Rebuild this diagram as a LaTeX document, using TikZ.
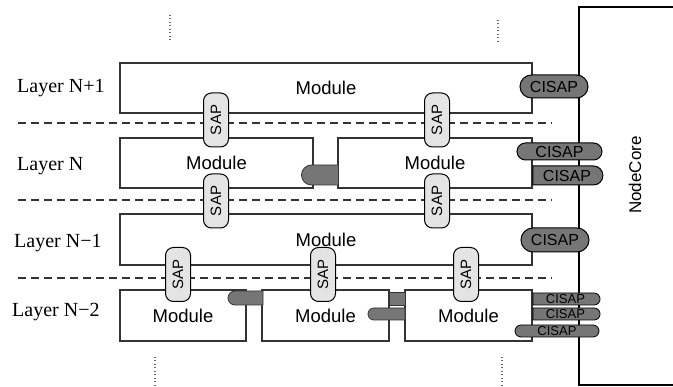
\documentclass[tikz,border=0pt]{standalone}
\usepackage{fontspec}
\setmainfont{Liberation Serif}
\setsansfont{Liberation Sans}
\usetikzlibrary{shapes.misc, positioning}
\definecolor{trazo}{HTML}{333333}
\definecolor{grisosc}{HTML}{767676}
\definecolor{grissap}{HTML}{E4E4E4}
\tikzset{
  modulo/.style={rectangle, draw=trazo, line width=1.3pt, fill=white, inner sep=0pt,
                 font=\sffamily\fontsize{18.5}{20}\selectfont},
  sap/.style={rectangle, rounded corners=8pt, draw=black, line width=1pt, fill=grissap,
              minimum width=25pt, minimum height=54pt, inner sep=0pt,
              font=\sffamily\fontsize{15}{16}\selectfont},
  cisap/.style={rounded rectangle, draw=black, line width=1pt, fill=grisosc, inner sep=0pt,
                font=\sffamily\fontsize{16}{18}\selectfont},
  cisapch/.style={rounded rectangle, draw=black, line width=0.8pt, fill=grisosc, inner sep=0pt,
                  minimum width=67pt, minimum height=12pt, font=\sffamily\fontsize{13}{13}\selectfont},
  enlace/.style={rounded rectangle, rounded rectangle east arc=none, draw=trazo, line width=0.8pt,
                 fill=grisosc, inner sep=0pt},
  capa/.style={anchor=west, inner sep=0pt, font=\fontsize{20}{22}\selectfont},
  separa/.style={dash pattern=on 8pt off 5pt, line width=1.2pt, color=trazo},
  puntos/.style={dash pattern=on 1pt off 2.5pt, line width=1.2pt, color=gray!80!black}
}
\begin{document}
\begin{tikzpicture}[x=1pt, y=-1pt]
  \clip (0,0) rectangle (673,387);
  \node (core) [rectangle, draw=black, line width=1.2pt, minimum width=120pt, minimum height=378pt] at (639,196) {};
  \node (corelbl) [rotate=90, font=\sffamily\fontsize{17}{19}\selectfont] at (635,175) {NodeCore};
  \draw [puntos] (170,15) -- (170,42);
  \draw [puntos] (498,20) -- (498,43);
  \draw [puntos] (155,357) -- (155,387);
  \draw [puntos] (502,357) -- (502,387);
  \draw [separa] (18,123) -- (552,123);
  \draw [separa] (18,200) -- (552,200);
  \draw [separa] (18,278) -- (552,278);
  \node (l1) [capa] at (17,88) {Layer N+1};
  \node (l2) [capa] at (17,166) {Layer N};
  \node (l3) [capa] at (14,243) {Layer N−1};
  \node (l4) [capa] at (12,312) {Layer N−2};
  \node (m1) [modulo, minimum width=412pt, minimum height=50pt] at (326,88) {Module};
  \node (m2a) [modulo, minimum width=193pt, minimum height=50pt] at (216.5,163) {Module};
  \node (m2b) [modulo, minimum width=194pt, minimum height=50pt] at (435,163) {Module};
  \node (m3) [modulo, minimum width=412pt, minimum height=51pt] at (326,239.5) {Module};
  \node (m4a) [modulo, minimum width=126pt, minimum height=51pt] at (183,315.5) {Module};
  \node (m4b) [modulo, minimum width=127pt, minimum height=51pt] at (325.5,315.5) {Module};
  \node (m4c) [modulo, minimum width=127pt, minimum height=51pt] at (468.5,315.5) {Module};
  \node (e2) [enlace, minimum width=37pt, minimum height=20pt] at (320,175) {};
  \node (e4a) [enlace, minimum width=35pt, minimum height=14pt] at (245.5,298) {};
  \node (e4b) [rectangle, draw=trazo, line width=0.8pt, fill=grisosc, minimum width=16pt, minimum height=13pt, inner sep=0pt] at (397,298.5) {};
  \node (e4c) [enlace, minimum width=37pt, minimum height=12pt] at (386.5,314) {};
  \node (s1a) [sap] at (216,120) {\rotatebox{90}{SAP}};
  \node (s1b) [sap] at (437,120) {\rotatebox{90}{SAP}};
  \node (s2a) [sap] at (216,201) {\rotatebox{90}{SAP}};
  \node (s2b) [sap] at (437,201) {\rotatebox{90}{SAP}};
  \node (s3a) [sap] at (178,274.5) {\rotatebox{90}{SAP}};
  \node (s3b) [sap] at (323,274.5) {\rotatebox{90}{SAP}};
  \node (s3c) [sap] at (466,274.5) {\rotatebox{90}{SAP}};
  \node (c1) [cisap, minimum width=68pt, minimum height=23pt] at (554,86.5) {CISAP};
  \node (c2a) [cisap, minimum width=85pt, minimum height=17pt] at (559.5,151.5) {CISAP};
  \node (c2b) [cisap, rounded rectangle west arc=none, minimum width=70pt, minimum height=19pt] at (567,175.5) {CISAP};
  \node (c3) [cisap, minimum width=68pt, minimum height=24pt] at (555,240) {CISAP};
  \node (c4a) [cisapch, rounded rectangle west arc=none] at (565.5,299) {CISAP};
  \node (c4b) [cisapch, rounded rectangle west arc=none] at (565.5,314) {CISAP};
  \node (c4c) [cisapch, minimum width=84pt] at (557,331) {CISAP};
\end{tikzpicture}
\end{document}
